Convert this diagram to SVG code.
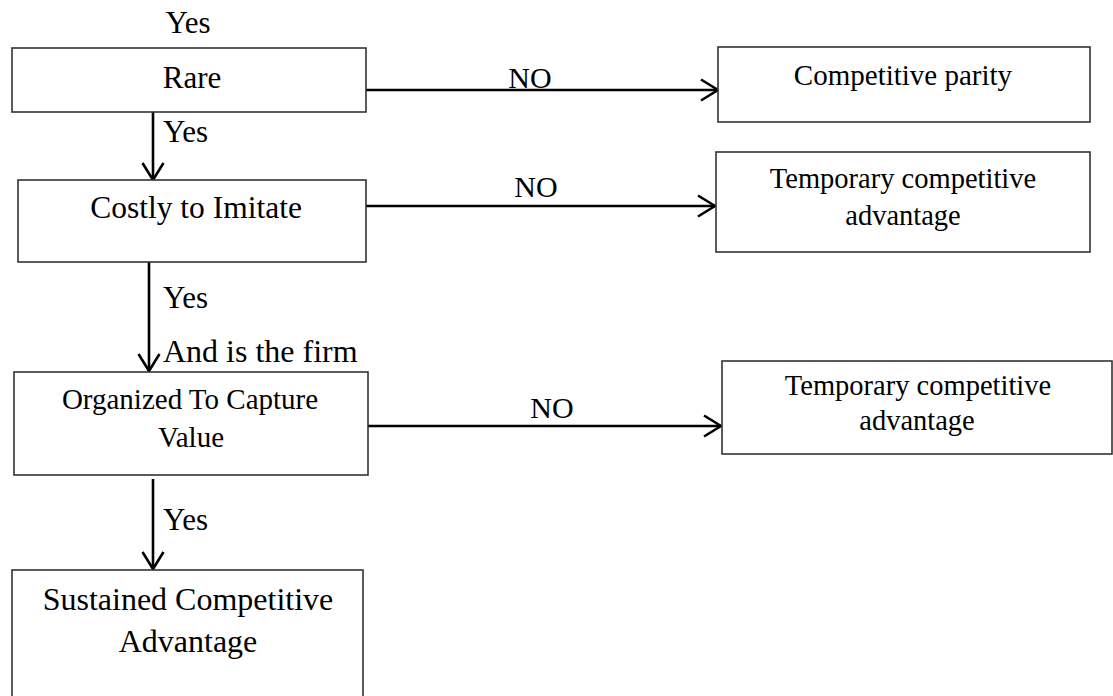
<svg xmlns="http://www.w3.org/2000/svg" width="1113" height="696" viewBox="0 0 1113 696">
<style>
.box{fill:#fff;stroke:#333;stroke-width:1.6}
.t{font-family:"Liberation Serif","Times New Roman",serif;fill:#000}
.c{text-anchor:middle}
.ln{stroke:#000;stroke-width:2.6;fill:none}
</style>
<defs>
<marker id="ah" viewBox="0 0 20 24" refX="18" refY="12" markerWidth="20" markerHeight="24" markerUnits="userSpaceOnUse" orient="auto">
<path d="M1,1.5 L18,12 L1,22.5" fill="none" stroke="#000" stroke-width="2.6"/>
</marker>
</defs>
<rect width="1113" height="696" fill="#fff"/>
<text class="t c" x="188" y="33" font-size="31">Yes</text>
<g id="connectors">
<line class="ln" x1="153" y1="112" x2="153" y2="180" marker-end="url(#ah)"/>
<line class="ln" x1="149" y1="262" x2="149" y2="371" marker-end="url(#ah)"/>
<line class="ln" x1="153" y1="479" x2="153" y2="569" marker-end="url(#ah)"/>
<line class="ln" x1="366" y1="90" x2="718" y2="90" marker-end="url(#ah)"/>
<line class="ln" x1="366" y1="206" x2="715" y2="206" marker-end="url(#ah)"/>
<line class="ln" x1="368" y1="426" x2="721" y2="426" marker-end="url(#ah)"/>
<text class="t" x="163" y="142" font-size="31">Yes</text>
<text class="t" x="163" y="308" font-size="31">Yes</text>
<text class="t" x="163" y="362" font-size="32">And is the firm</text>
<text class="t" x="163" y="530" font-size="31">Yes</text>
<text class="t c" x="530" y="88" font-size="30">NO</text>
<text class="t c" x="536" y="197" font-size="30">NO</text>
<text class="t c" x="552" y="418" font-size="30">NO</text>
</g>
<g id="rare">
<rect class="box" x="12" y="48" width="354" height="64"/>
<text class="t c" x="192" y="88" font-size="31">Rare</text>
</g>
<g id="costly">
<rect class="box" x="18" y="180" width="348" height="82"/>
<text class="t c" x="196" y="218" font-size="31.5">Costly to Imitate</text>
</g>
<g id="organized">
<rect class="box" x="14" y="372" width="354" height="103"/>
<text class="t c" x="190" y="409" font-size="29">Organized To Capture</text>
<text class="t c" x="191" y="447" font-size="29">Value</text>
</g>
<g id="sustained">
<rect class="box" x="12" y="570" width="351" height="135"/>
<text class="t c" x="188" y="610" font-size="32">Sustained Competitive</text>
<text class="t c" x="188" y="652" font-size="32">Advantage</text>
</g>
<g id="parity">
<rect class="box" x="718" y="47" width="372" height="75"/>
<text class="t c" x="903" y="85" font-size="29">Competitive parity</text>
</g>
<g id="temp1">
<rect class="box" x="716" y="152" width="374" height="100"/>
<text class="t c" x="903" y="188" font-size="28.5">Temporary competitive</text>
<text class="t c" x="903" y="225" font-size="28.5">advantage</text>
</g>
<g id="temp2">
<rect class="box" x="722" y="361" width="390" height="93"/>
<text class="t c" x="918" y="395" font-size="28.5">Temporary competitive</text>
<text class="t c" x="917" y="430" font-size="28.5">advantage</text>
</g>
</svg>
